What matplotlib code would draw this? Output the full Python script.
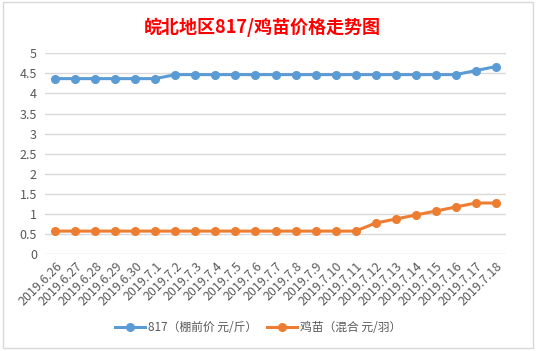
import matplotlib
matplotlib.use("Agg")
import matplotlib.pyplot as plt
from matplotlib.patches import Rectangle

plt.rcParams['font.family'] = ['Noto Sans CJK SC', 'DejaVu Sans']

# 数据
dates = ['2019.6.26', '2019.6.27', '2019.6.28', '2019.6.29', '2019.6.30',
         '2019.7.1', '2019.7.2', '2019.7.3', '2019.7.4', '2019.7.5', '2019.7.6',
         '2019.7.7', '2019.7.8', '2019.7.9', '2019.7.10', '2019.7.11', '2019.7.12',
         '2019.7.13', '2019.7.14', '2019.7.15', '2019.7.16', '2019.7.17', '2019.7.18']
price_817 = [4.37, 4.37, 4.37, 4.37, 4.37, 4.37, 4.47, 4.47, 4.47, 4.47, 4.47, 4.47,
             4.47, 4.47, 4.47, 4.47, 4.47, 4.47, 4.47, 4.47, 4.47, 4.57, 4.67]
price_chick = [0.57, 0.57, 0.57, 0.57, 0.57, 0.57, 0.57, 0.57, 0.57, 0.57, 0.57, 0.57,
               0.57, 0.57, 0.57, 0.57, 0.77, 0.87, 0.97, 1.07, 1.17, 1.27, 1.27]
yticks = [0, 0.5, 1, 1.5, 2, 2.5, 3, 3.5, 4, 4.5, 5]
ytick_labels = ['0', '0.5', '1', '1.5', '2', '2.5', '3', '3.5', '4', '4.5', '5']

fig = plt.figure(figsize=(5.36, 3.51), dpi=100)
ax = fig.add_axes([0.0845, 0.2764, 0.859, 0.5716])

# Excel-Rahmen um das Diagramm
fig.patches.append(Rectangle((3 / 536, 1 - 348 / 351), 530 / 536, 346 / 351,
                             transform=fig.transFigure, fill=False,
                             edgecolor='#D9D9D9', linewidth=1))

x = range(len(dates))
ax.plot(x, price_817, color='#5B9BD5', linewidth=2.2, marker='o', markersize=5.5,
        label='817（棚前价 元/斤）', clip_on=False, zorder=3)
ax.plot(x, price_chick, color='#ED7D31', linewidth=2.2, marker='o', markersize=5.5,
        label='鸡苗（混合 元/羽）', clip_on=False, zorder=3)

ax.set_xlim(-0.5, len(dates) - 0.5)
ax.set_ylim(0, 5)
ax.set_yticks(yticks)
ax.set_yticklabels(ytick_labels)
ax.set_xticks(list(x))
ax.set_xticklabels(dates, rotation=45, ha='right', rotation_mode='anchor')

ax.grid(axis='y', color='#D9D9D9', linewidth=1)
ax.set_axisbelow(True)
for s in ax.spines.values():
    s.set_visible(False)
ax.tick_params(axis='both', length=0, colors='#595959', labelsize=9)
ax.tick_params(axis='y', pad=6)
ax.tick_params(axis='x', pad=4)

fig.text(0.49, 0.923, '皖北地区817/鸡苗价格走势图', color='red', fontsize=13,
         fontweight='bold', ha='center', va='center')

fig.legend(loc='center', bbox_to_anchor=(0.482, 0.066), ncol=2, frameon=False,
           fontsize=8.5, handlelength=2.5, columnspacing=0.8, handletextpad=0.3,
           labelcolor='#595959')

fig.savefig('out.png', dpi=100)
